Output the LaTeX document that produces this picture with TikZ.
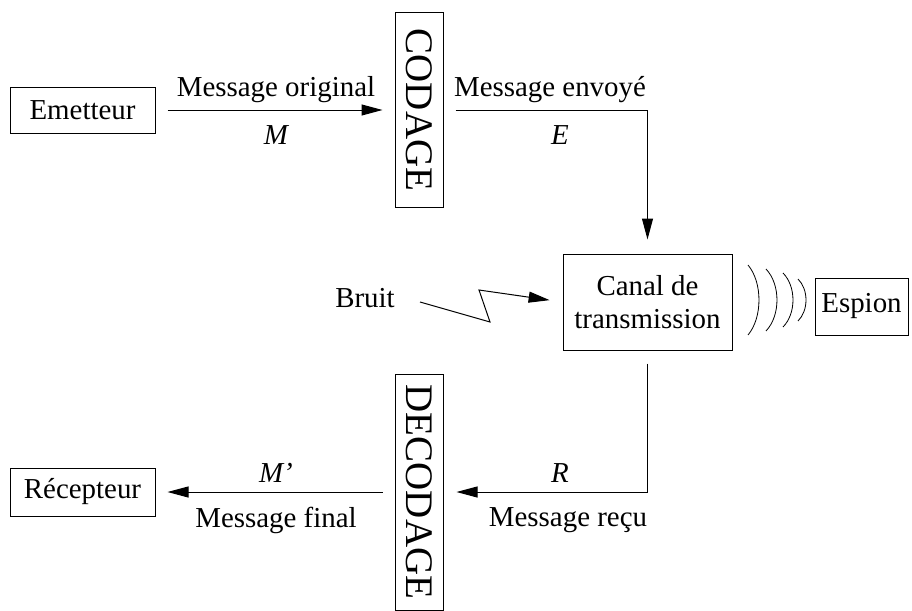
\documentclass[tikz,border=0pt]{standalone}
\usepackage{fontspec}
\setmainfont{Liberation Serif}
\usepackage{graphicx}
\usetikzlibrary{arrows.meta}
\begin{document}
\begin{tikzpicture}[x=1pt,y=-1pt,
  every node/.style={font=\fontsize{28.9}{33}\selectfont},
  box/.style={draw,line width=1pt,inner sep=0pt},
  bigtxt/.style={font=\fontsize{39}{39}\selectfont},
  conn/.style={line width=1pt,-{Triangle[length=21pt,width=11pt]}},
  lbl/.style={inner sep=0pt,anchor=center}]
\useasboundingbox (0,0) rectangle (912,610);
% boxes
\node[box,minimum width=145pt,minimum height=46pt] (emetteur) at (82.5,110) {Emetteur};
\node[box,minimum width=48pt,minimum height=194pt,bigtxt] (codage) at (419,110) {\rotatebox{-90}{CODAGE}};
\node[box,minimum width=169pt,minimum height=96pt,align=center] (canal) at (647.5,302) {Canal de\\transmission};
\node[box,minimum width=93pt,minimum height=57pt] (espion) at (861.5,306.5) {Espion};
\node[box,minimum width=48pt,minimum height=236pt,bigtxt] (decodage) at (419,492) {\rotatebox{-90}{DECODAGE}};
\node[box,minimum width=145pt,minimum height=48pt] (recepteur) at (82.5,492) {Récepteur};
\node[lbl] (bruit) at (365,298) {Bruit};
% connectors
\draw[conn,shorten <=12pt,shorten >=12pt] (emetteur.east) -- (codage.west);
\draw[conn,shorten <=12pt,shorten >=14pt] (codage.east) -| (canal.north);
\draw[conn,shorten <=13pt,shorten >=13pt] (canal.south) |- (decodage.east);
\draw[conn,shorten <=12pt,shorten >=12pt] (decodage.west) -- (recepteur.east);
\coordinate (z0) at (420,302);
\coordinate (z1) at (490,322);
\coordinate (z2) at (479,290);
\draw[conn,shorten >=13pt,line join=miter] (z0) -- (z1) -- (z2) -- (canal.west);
% waves
\foreach \x/\b/\h in {748/11/35, 766/11/31, 783/10/27, 798/8/21}{
  \draw[line width=0.8pt] (\x,300-\h) .. controls (\x+1.33*\b,300-0.5*\h) and (\x+1.33*\b,300+0.5*\h) .. (\x,300+\h);
}
% labels
\node[lbl] (l1) at (276,90) {Message original};
\node[lbl] (l2) at (276,135) {\itshape M};
\node[lbl] (l3) at (550,90) {Message envoyé};
\node[lbl] (l4) at (560,135) {\itshape E};
\node[lbl] (l5) at (560,473) {\itshape R};
\node[lbl] (l6) at (568,520) {Message reçu};
\node[lbl] (l7) at (276,473) {\itshape M’};
\node[lbl] (l8) at (276,520) {Message final};
\end{tikzpicture}
\end{document}
